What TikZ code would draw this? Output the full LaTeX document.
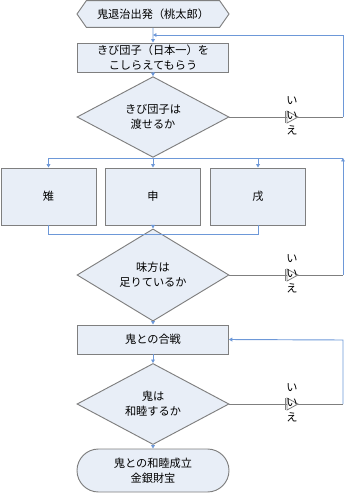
\documentclass[tikz,border=0pt]{standalone}
\usepackage{fontspec}
\setmainfont{Noto Sans CJK JP}
\usetikzlibrary{shapes.geometric,shapes.symbols,shapes.misc,arrows.meta}
\definecolor{boxfill}{HTML}{E8EEF7}
\definecolor{boxline}{HTML}{7F7F7F}
\definecolor{flowblue}{HTML}{6D98D8}
\begin{document}
\begin{tikzpicture}[
  x=0.75pt,y=-0.75pt,
  font=\fontsize{8.4}{11}\selectfont,
  base/.style={draw=boxline,fill=boxfill,line width=0.7pt,inner sep=0pt,align=center},
  proc/.style={base,rectangle,minimum width=113pt,minimum height=21.75pt},
  pick/.style={base,rectangle,minimum width=71.25pt,minimum height=42.75pt},
  test/.style={base,diamond,minimum width=114pt,minimum height=45pt},
  start/.style={base,signal,signal to=west and east,signal pointer angle=110,
    minimum width=114pt,minimum height=20pt},
  stop/.style={base,rounded rectangle,minimum width=114pt,minimum height=32.25pt},
  flow/.style={draw=flowblue,line width=0.7pt},
  arr/.style={flow,-{Triangle[length=2.6pt,width=2.8pt]}},
  noline/.style={draw=boxline,line width=0.7pt},
  nomark/.style={draw=boxline,fill=white,line width=0.6pt}]
  \useasboundingbox (0,0) rectangle (346,493);
  % main column
  \node[start] (go) at (153,14) {鬼退治出発（桃太郎）};
  \node[proc] (dango) at (153,57.5) {きび団子（日本一）を\\こしらえてもらう};
  \node[test] (give) at (153,117) {きび団子は\\渡せるか};
  \node[pick] (kiji) at (48.5,196.5) {雉};
  \node[pick] (saru) at (153,196.5) {申};
  \node[pick] (inu) at (258,196.5) {戌};
  \node[test] (enough) at (153,275) {味方は\\足りているか};
  \node[proc] (battle) at (153,339.5) {鬼との合戦};
  \node[test] (peace) at (153,404) {鬼は\\和睦するか};
  \node[stop] (goal) at (153,470.5) {鬼との和睦成立\\金銀財宝};
  % junctions
  \coordinate (j1) at (153,35);
  \coordinate (c1) at (343,35);
  \coordinate (r1) at (343,117);
  \coordinate (split) at (153,158);
  \coordinate (sl) at (48.5,158);
  \coordinate (sr) at (258,158);
  \coordinate (c2) at (343,158);
  \coordinate (r2) at (343,275);
  \coordinate (ml) at (48.5,234);
  \coordinate (mc) at (153,234);
  \coordinate (mr) at (258,234);
  \coordinate (c3) at (343,340);
  \coordinate (r3) at (343,404);
  % connectors
  \draw[arr] (go) -- (dango);
  \draw[arr] (dango) -- (give);
  \draw[flow] (give) -- (split);
  \draw[flow] (sl) -- (c2);
  \draw[arr] (sl) -- (kiji);
  \draw[arr] (split) -- (saru);
  \draw[arr] (sr) -- (inu);
  \draw[flow] (kiji) -- (ml) -- (mr) -- (inu);
  \draw[arr] (saru) -- (enough);
  \draw[arr] (enough) -- (battle);
  \draw[arr] (battle) -- (peace);
  \draw[arr] (peace) -- (goal);
  \draw[noline] (give.east) -- (r1);
  \draw[noline] (enough.east) -- (r2);
  \draw[noline] (peace.east) -- (r3);
  \draw[arr] (r1) -- (c1) -- (j1);
  \draw[arr] (r2) -- (c2);
  \draw[arr] (r3) -- (c3) -- (battle.east);
  % "no" marks
  \foreach \y in {117,275,404} {
    \draw[nomark] (287,\y-6) -- (298,\y) -- (287,\y+6) -- cycle;
    \draw[boxline,line width=0.5pt] (285.5,\y-6) -- (285.5,\y+6);
    \node[font=\fontsize{8.4}{11.25}\selectfont,align=center,inner sep=0pt]
      (no\y) at (292,\y-1) {い\\い\\え};
  }
\end{tikzpicture}
\end{document}
